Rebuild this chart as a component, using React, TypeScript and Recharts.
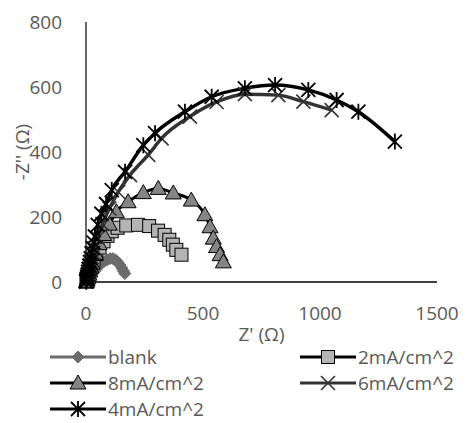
import React from 'react';
import { ComposedChart, Line, XAxis, YAxis, Legend } from 'recharts';

type Pt = { x: number; y: number };

// Nyquist data: Z' (x) and -Z'' (y), in ohms
const blank: Pt[] = [
  { x: 2, y: 1 }, { x: 5, y: 4 }, { x: 9, y: 8 }, { x: 14, y: 12 }, { x: 20, y: 18 },
  { x: 27, y: 25 }, { x: 35, y: 32 }, { x: 44, y: 40 }, { x: 54, y: 48 }, { x: 65, y: 56 },
  { x: 77, y: 63 }, { x: 90, y: 68 }, { x: 103, y: 72 }, { x: 115, y: 72 }, { x: 126, y: 68 },
  { x: 136, y: 61 }, { x: 145, y: 52 }, { x: 153, y: 43 }, { x: 160, y: 34 }, { x: 166, y: 26 },
];
const ma2: Pt[] = [
  { x: 2, y: 1 }, { x: 5, y: 6 }, { x: 8, y: 12 }, { x: 11, y: 20 }, { x: 14, y: 28 },
  { x: 18, y: 37 }, { x: 22, y: 46 }, { x: 32, y: 66 }, { x: 44, y: 86 }, { x: 58, y: 106 },
  { x: 75, y: 125 }, { x: 92, y: 142 }, { x: 110, y: 156 }, { x: 135, y: 167 }, { x: 172, y: 174 },
  { x: 222, y: 176 }, { x: 270, y: 172 }, { x: 308, y: 158 }, { x: 336, y: 145 }, { x: 356, y: 130 },
  { x: 371, y: 115 }, { x: 386, y: 99 }, { x: 408, y: 84 },
];
const ma8: Pt[] = [
  { x: 2, y: 1 }, { x: 5, y: 7 }, { x: 8, y: 14 }, { x: 12, y: 24 }, { x: 16, y: 34 },
  { x: 21, y: 46 }, { x: 26, y: 58 }, { x: 40, y: 88 }, { x: 56, y: 118 }, { x: 76, y: 146 },
  { x: 100, y: 178 }, { x: 130, y: 216 }, { x: 180, y: 247 }, { x: 245, y: 275 }, { x: 309, y: 288 },
  { x: 373, y: 274 }, { x: 450, y: 252 }, { x: 508, y: 207 }, { x: 530, y: 170 }, { x: 544, y: 135 },
  { x: 558, y: 109 }, { x: 573, y: 84 }, { x: 587, y: 62 },
];
const ma6: Pt[] = [
  { x: 1, y: 1 }, { x: 3, y: 5 }, { x: 5, y: 10 }, { x: 7, y: 16 }, { x: 9, y: 23 },
  { x: 12, y: 31 }, { x: 15, y: 41 }, { x: 18, y: 51 }, { x: 22, y: 63 }, { x: 26, y: 76 },
  { x: 31, y: 90 }, { x: 36, y: 104 }, { x: 50, y: 136 }, { x: 70, y: 178 }, { x: 100, y: 226 },
  { x: 138, y: 277 }, { x: 188, y: 329 }, { x: 266, y: 391 }, { x: 323, y: 442 }, { x: 444, y: 509 },
  { x: 558, y: 554 }, { x: 679, y: 578 }, { x: 822, y: 575 }, { x: 929, y: 555 }, { x: 1050, y: 529 },
];
const ma4: Pt[] = [
  { x: 1, y: 1 }, { x: 2, y: 5 }, { x: 3, y: 10 }, { x: 5, y: 16 }, { x: 7, y: 23 },
  { x: 9, y: 31 }, { x: 11, y: 40 }, { x: 14, y: 50 }, { x: 17, y: 61 }, { x: 20, y: 73 },
  { x: 24, y: 88 }, { x: 28, y: 104 }, { x: 33, y: 121 }, { x: 38, y: 140 }, { x: 50, y: 176 },
  { x: 66, y: 210 }, { x: 86, y: 240 }, { x: 110, y: 283 }, { x: 167, y: 339 }, { x: 245, y: 421 },
  { x: 295, y: 458 }, { x: 423, y: 524 }, { x: 537, y: 570 }, { x: 679, y: 596 }, { x: 808, y: 606 },
  { x: 950, y: 591 }, { x: 1071, y: 560 }, { x: 1164, y: 524 }, { x: 1320, y: 432 },
];

const xTicks = [0, 500, 1000, 1500];
const yTicks = [0, 200, 400, 600, 800];

const FONT = '"Open Sans", sans-serif';
const TEXT = '#595959';

// marker shapes, drawn around (cx, cy)
const diamond = (cx: number, cy: number, key?: string) => (
  <path key={key} d={`M${cx},${cy - 6}L${cx + 6},${cy}L${cx},${cy + 6}L${cx - 6},${cy}Z`} fill="#6b6b6b" stroke="#6b6b6b" />
);
const square = (cx: number, cy: number, key?: string) => (
  <rect key={key} x={cx - 6.5} y={cy - 6.5} width={13} height={13} fill="#b4b4b4" stroke="#000" strokeWidth={1} />
);
const triangle = (cx: number, cy: number, key?: string) => (
  <path key={key} d={`M${cx},${cy - 8}L${cx + 8},${cy + 6}L${cx - 8},${cy + 6}Z`} fill="#858585" stroke="#000" strokeWidth={1} />
);
const cross = (cx: number, cy: number, key?: string) => (
  <path key={key} d={`M${cx - 7},${cy - 7}L${cx + 7},${cy + 7}M${cx - 7},${cy + 7}L${cx + 7},${cy - 7}`} stroke="#333" strokeWidth={1.6} />
);
const star = (cx: number, cy: number, key?: string) => (
  <path key={key} d={`M${cx - 7},${cy - 7}L${cx + 7},${cy + 7}M${cx - 7},${cy + 7}L${cx + 7},${cy - 7}M${cx},${cy - 8}L${cx},${cy + 8}`} stroke="#000" strokeWidth={1.8} />
);

const series = [
  { name: 'blank', data: blank, color: '#6b6b6b', width: 3.5, marker: diamond },
  { name: '2mA/cm^2', data: ma2, color: '#000', width: 3, marker: square },
  { name: '8mA/cm^2', data: ma8, color: '#000', width: 3, marker: triangle },
  { name: '6mA/cm^2', data: ma6, color: '#333', width: 3.5, marker: cross },
  { name: '4mA/cm^2', data: ma4, color: '#000', width: 3.5, marker: star },
];

const renderLegend = () => (
  <div style={{ position: 'relative', height: 72, fontFamily: FONT, fontSize: 19, color: TEXT }}>
    {series.map((s, i) => (
      <div
        key={s.name}
        style={{
          position: 'absolute',
          left: i % 2 ? 300 : 50,
          top: Math.floor(i / 2) * 26,
          height: 20,
          lineHeight: '20px',
          display: 'flex',
          alignItems: 'center',
          whiteSpace: 'nowrap',
        }}
      >
        <svg width={56} height={20} style={{ display: 'block', overflow: 'visible' }}>
          <line x1={0} y1={10} x2={56} y2={10} stroke={s.color} strokeWidth={3} />
          {s.marker(28, 10)}
        </svg>
        <span style={{ marginLeft: 2 }}>{s.name}</span>
      </div>
    ))}
  </div>
);

const YLabel = (props: any) => {
  const { viewBox } = props;
  const x = viewBox.x + 29;
  const y = viewBox.y + viewBox.height / 2;
  return (
    <text x={x} y={y} transform={`rotate(-90, ${x}, ${y})`} textAnchor="middle" fill={TEXT} fontSize={19} fontFamily={FONT}>
      -Z'' (Ω)
    </text>
  );
};

export default function App() {
  return (
    <div style={{ position: 'absolute', left: 0, top: 0 }}>
      <ComposedChart width={468} height={423} margin={{ top: 22, right: 31, bottom: 17, left: 0 }}>
        <XAxis
          type="number"
          dataKey="x"
          domain={[0, 1500]}
          ticks={xTicks}
          height={52}
          tickLine={false}
          tickSize={0}
          tickMargin={25}
          axisLine={{ stroke: '#000', strokeWidth: 1.4 }}
          tick={{ fill: TEXT, fontSize: 19, fontFamily: FONT }}
          label={{ value: "Z' (Ω)", position: 'insideBottom', offset: -7, fill: TEXT, fontSize: 19, fontFamily: FONT }}
        />
        <YAxis
          type="number"
          domain={[0, 800]}
          ticks={yTicks}
          width={86}
          tickLine={false}
          tickSize={0}
          tickMargin={24}
          axisLine={{ stroke: '#000', strokeWidth: 1.2 }}
          tick={{ fill: TEXT, fontSize: 19, fontFamily: FONT }}
          label={<YLabel />}
        />
        <Legend content={renderLegend} wrapperStyle={{ top: 347, left: 0, width: 468 }} />
        {series.map((s) => (
          <Line
            key={s.name}
            name={s.name}
            data={s.data}
            dataKey="y"
            type="monotone"
            stroke={s.color}
            strokeWidth={s.width}
            isAnimationActive={false}
            dot={(p: any) => s.marker(p.cx, p.cy, `${s.name}-${p.index}`)}
            activeDot={false}
          />
        ))}
      </ComposedChart>
    </div>
  );
}
